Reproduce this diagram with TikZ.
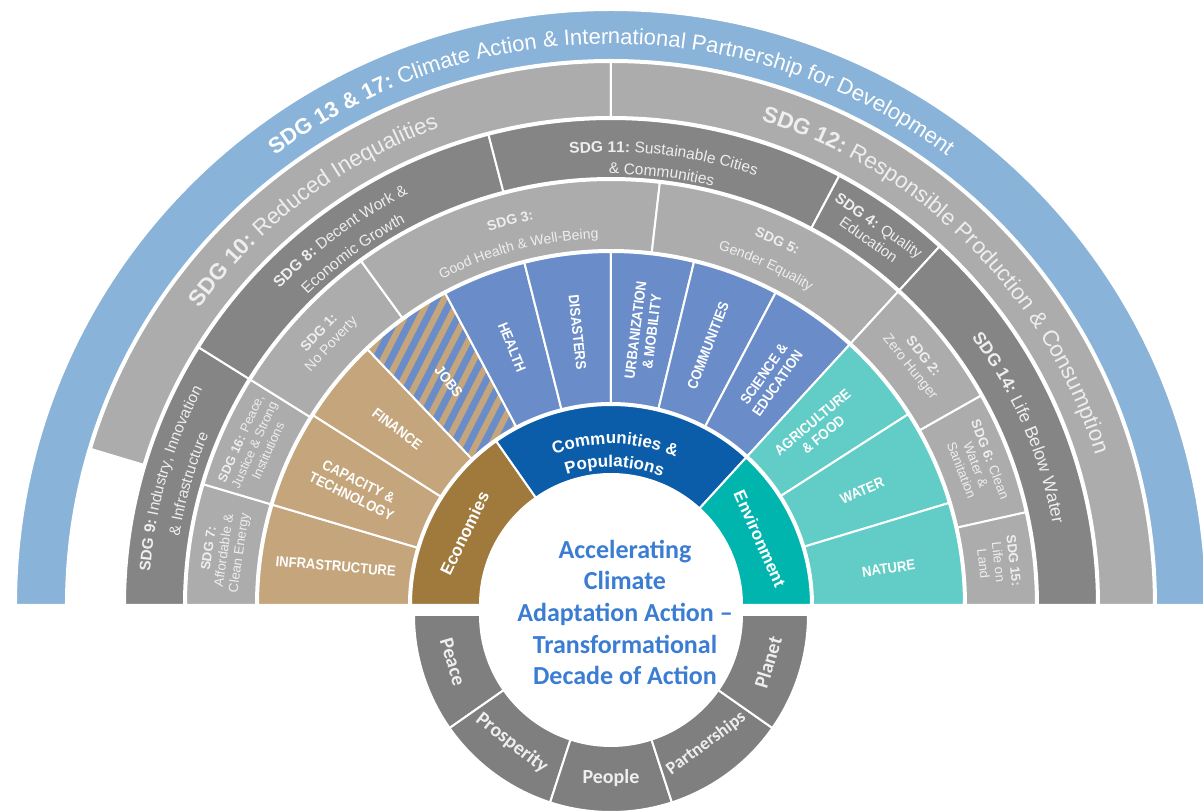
\documentclass[tikz,border=0pt]{standalone}
\usepackage{fontspec}
\setmainfont{Liberation Sans}
\newfontfamily\calfont{Carlito}
\newfontfamily\condfont[FakeStretch=0.9]{Liberation Sans}
\usetikzlibrary{decorations.text}

\definecolor{sdgblue}{HTML}{89B3D8}
\definecolor{ringlight}{HTML}{ACACAC}
\definecolor{ringdark}{HTML}{858585}
\definecolor{tansec}{HTML}{C4A57C}
\definecolor{econ}{HTML}{A07A3D}
\definecolor{bluesec}{HTML}{6A8DC9}
\definecolor{commun}{HTML}{0B5DA9}
\definecolor{tealsec}{HTML}{62CDC6}
\definecolor{envir}{HTML}{00B5AD}
\definecolor{lowring}{HTML}{7F7F7F}
\definecolor{centertext}{HTML}{3B7DD3}
\definecolor{soft}{HTML}{EEEEEE}

% annular sector: inner radius, outer radius, start angle, end angle, path options
\newcommand\annsec[5]{\path[#5] (#3:#1) arc[start angle=#3,end angle=#4,radius=#1] -- (#4:#2) arc[start angle=#4,end angle=#3,radius=#2] -- cycle;}
% text set along a clockwise arc: baseline radius, start angle, end angle, text
\newcommand\arclabel[4]{\path[decorate,decoration={text along path,text align=center,text={#4}}] (#2:#1) arc[start angle=#2,end angle=#3,radius=#1];}
% current bold / regular formats for arc text
\newcommand\setfmt[3]{\def\curB{\color{#1}\fontsize{#2}{#3}\selectfont\bfseries}\def\curR{\color{#1}\fontsize{#2}{#3}\selectfont\mdseries}}

\begin{document}
\begin{tikzpicture}[x=1pt,y=1pt,
  seg/.style={draw=white,line width=2pt},
  seclab/.style={text=white,font=\condfont\bfseries\fontsize{14.5}{16.5}\selectfont,align=center,inner sep=0pt},
  sdglab/.style={text=soft,font=\fontsize{13.3}{15.3}\selectfont,align=center,inner sep=0pt},
  ringlab/.style={text=white,font=\bfseries\fontsize{17}{20}\selectfont,inner sep=0pt},
  lowlab/.style={text=soft,font=\calfont\bfseries\fontsize{20}{22}\selectfont,inner sep=0pt}]
\useasboundingbox (-611,-206) rectangle (592,605);
\fill[white] (-611,-206) rectangle (592,605);

% outer ring: SDG 13 & 17
\annsec{545}{595}{0}{180}{fill=sdgblue,seg}
% SDG 10 and SDG 12
\annsec{488}{543}{90}{163.3}{fill=ringlight,seg}
\annsec{488}{543}{0}{90}{fill=ringlight,seg}
% dark ring: SDG 9, 8, 11, 4, 14
\annsec{427}{486}{148}{180}{fill=ringdark,seg}
\annsec{427}{486}{104.6}{148}{fill=ringdark,seg}
\annsec{427}{486}{62}{104.6}{fill=ringdark,seg}
\annsec{427}{486}{47.5}{62}{fill=ringdark,seg}
\annsec{427}{486}{0}{47.5}{fill=ringdark,seg}
% small ring: SDG 7, 16, 1, 3, 5, 2, 6, 15
\annsec{355}{425}{163.5}{180}{fill=ringlight,seg}
\annsec{355}{425}{148}{163.5}{fill=ringlight,seg}
\annsec{355}{425}{126}{148}{fill=ringlight,seg}
\annsec{355}{425}{83.4}{126}{fill=ringlight,seg}
\annsec{355}{425}{47.5}{83.4}{fill=ringlight,seg}
\annsec{355}{425}{29.5}{47.5}{fill=ringlight,seg}
\annsec{355}{425}{12.6}{29.5}{fill=ringlight,seg}
\annsec{355}{425}{0}{12.6}{fill=ringlight,seg}
% sector ring
\annsec{202}{353}{163.5}{180}{fill=tansec,seg}
\annsec{202}{353}{147.5}{163.5}{fill=tansec,seg}
\annsec{202}{353}{133.6}{147.5}{fill=tansec,seg}
\begin{scope}
  \annsec{202}{353}{118}{133.6}{clip}
  \fill[bluesec] (-400,0) rectangle (0,400);
  \foreach \k in {-16,...,16}{
    \draw[tansec,line width=6.3pt] ({-306.2+12.03*\k},{2.7-6.13*\k}) -- ++(272.4,534.6);
  }
\end{scope}
\annsec{202}{353}{118}{133.6}{seg}
\annsec{202}{353}{104.2}{118}{fill=bluesec,seg}
\annsec{202}{353}{90}{104.2}{fill=bluesec,seg}
\annsec{202}{353}{76.4}{90}{fill=bluesec,seg}
\annsec{202}{353}{62.2}{76.4}{fill=bluesec,seg}
\annsec{202}{353}{47.5}{62.2}{fill=bluesec,seg}
\annsec{202}{353}{32.7}{47.5}{fill=tealsec,seg}
\annsec{202}{353}{16.8}{32.7}{fill=tealsec,seg}
\annsec{202}{353}{0}{16.8}{fill=tealsec,seg}
% inner ring
\annsec{131}{200}{125}{180}{fill=econ,seg}
\annsec{131}{200}{47.5}{125}{fill=commun,seg}
\annsec{131}{200}{0}{47.5}{fill=envir,seg}

% curved ring texts
\setfmt{white}{22}{24}
\arclabel{561}{180}{0}{|\curB|SDG 13 {\&} 17:|\curR| Climate Action {\&} International Partnership for Development}
\setfmt{soft}{22.5}{25}
\arclabel{507}{163}{91}{|\curB|SDG 10:|\curR| Reduced Inequalities}
\arclabel{507}{89}{1}{|\curB|SDG 12:|\curR| Responsible Production {\&} Consumption}
\setfmt{soft}{17.5}{20}
\arclabel{449}{47}{0}{|\curB|SDG 14:|\curR| Life Below Water}
\setfmt{soft}{15.5}{18}
\arclabel{462}{180}{148}{|\curB|SDG 9:|\curR| Industry, Innovation}
\arclabel{437}{180}{148}{|\curR|{\&} Infrastructure}
\arclabel{458}{148}{104.6}{|\curB|SDG 8:|\curR| Decent Work {\&}}
\arclabel{434}{148}{104.6}{|\curR|Economic Growth}
\arclabel{453}{104.6}{62}{|\curB|SDG 11:|\curR| Sustainable Cities}
\arclabel{431}{104.6}{62}{|\curR|{\&} Communities}
\setfmt{soft}{14}{16}
\arclabel{393}{126}{83.4}{|\curB|SDG 3:}
\arclabel{367}{126}{83.4}{|\curR|Good Health {\&} Well-Being}
\arclabel{396}{83.4}{47.5}{|\curB|SDG 5:}
\arclabel{371}{83.4}{47.5}{|\curR|Gender Equality}
\setfmt{white}{17}{20}
\arclabel{161}{125}{52}{|\curB|Communities {\&}}
\arclabel{138}{125}{52}{|\curB|Populations}

% straight SDG labels
\node[sdglab,rotate=81.7] (sdg7) at (172:390) {\textbf{SDG 7:}\\Affordable \&\\Clean Energy};
\node[sdglab,rotate=65.7,font=\fontsize{12.8}{15}\selectfont] (sdg16) at (155.8:391) {\textbf{SDG 16:} Peace,\\Justice \& Strong\\Institutions};
\node[sdglab,rotate=47,font=\fontsize{14}{16.5}\selectfont] (sdg1) at (137:390) {\textbf{SDG 1:}\\No Poverty};
\node[sdglab,rotate=-51.5,font=\fontsize{14}{16.5}\selectfont] (sdg2) at (38.5:390) {\textbf{SDG 2:}\\Zero Hunger};
\node[sdglab,rotate=-69] (sdg6) at (21:391) {\textbf{SDG 6:} Clean\\Water \&\\Sanitation};
\node[sdglab,rotate=-83.7] (sdg15) at (6.3:390) {\textbf{SDG 15:}\\Life on\\Land};
\node[sdglab,rotate=-35,font=\fontsize{15}{17.5}\selectfont] (sdg4) at (54.8:456) {\textbf{SDG 4:} Quality\\Education};

% sector labels
\node[seclab,rotate=-5] (infra) at (172:278) {INFRASTRUCTURE};
\node[seclab,rotate=-26] (capac) at (155.6:281) {CAPACITY \&\\TECHNOLOGY};
\node[seclab,rotate=-37] (fin) at (140.5:277) {FINANCE};
\node[seclab,rotate=-52] (jobs) at (126:276) {JOBS};
\node[seclab,rotate=-68] (health) at (111:276) {HEALTH};
\node[seclab,rotate=-84] (disas) at (97:275) {DISASTERS};
\node[seclab,rotate=83] (urban) at (83.2:276) {URBANIZATION\\\& MOBILITY};
\node[seclab,rotate=69] (commsec) at (69.5:277) {COMMUNITIES};
\node[seclab,rotate=55] (sci) at (54.8:277) {SCIENCE \&\\EDUCATION};
\node[seclab,rotate=40] (agri) at (40.5:272) {AGRICULTURE\\\& FOOD};
\node[seclab,rotate=23] (water) at (24.5:276) {WATER};
\node[seclab,rotate=8] (nature) at (7.5:280) {NATURE};

% inner ring labels
\node[ringlab,rotate=64] (econ) at (154:163) {Economies};
\node[ringlab,rotate=-66] (env) at (24:163) {Environment};

% lower ring: the five Ps
\begin{scope}[shift={(0,-10)}]
  \annsec{131}{197}{180}{215}{fill=lowring,seg}
  \annsec{131}{197}{215}{252}{fill=lowring,seg}
  \annsec{131}{197}{252}{288}{fill=lowring,seg}
  \annsec{131}{197}{288}{325}{fill=lowring,seg}
  \annsec{131}{197}{325}{360}{fill=lowring,seg}
  \node[lowlab,rotate=-73.5] (peace) at (196.5:165) {Peace};
  \node[lowlab,rotate=-37.7] (prosp) at (232.3:162) {Prosperity};
  \node[lowlab] (people) at (270:163) {People};
  \node[lowlab,rotate=36.5,font=\calfont\bfseries\fontsize{18}{20}\selectfont] (partn) at (306.5:160) {Partnerships};
  \node[lowlab,rotate=73.2] (planet) at (343.2:164) {Planet};
\end{scope}

% central statement
\node[font=\calfont\bfseries\fontsize{26}{31.7}\selectfont,text=centertext,align=center,inner sep=0pt] (core) at (14,-7.5)
  {Accelerating\\Climate\\Adaptation Action –\\Transformational\\Decade of Action};
\end{tikzpicture}
\end{document}
